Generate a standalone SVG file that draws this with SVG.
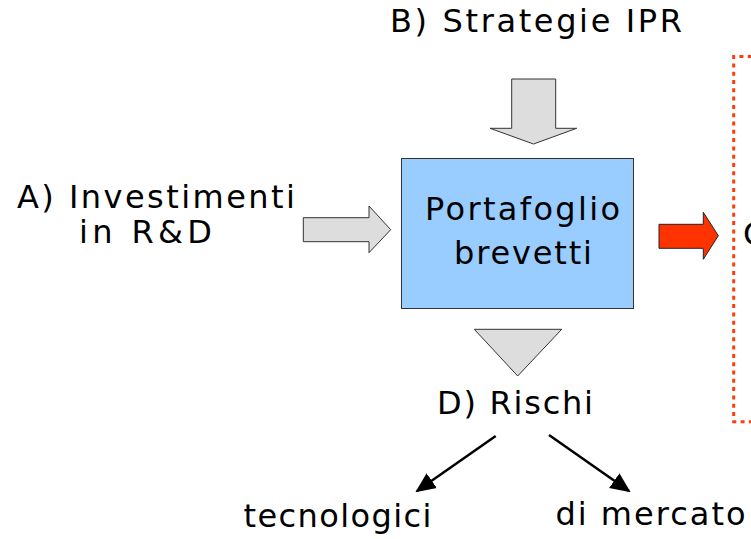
<svg xmlns="http://www.w3.org/2000/svg" width="751" height="539" viewBox="0 0 751 539">
  <style>
    text { font-family: "DejaVu Sans", Verdana, sans-serif; font-size: 32px; fill: #000; }
    .block { fill: #DDDDDD; stroke: #333333; stroke-width: 1; }
    .hot { fill: #FF3300; stroke: #222222; stroke-width: 1; }
    .box { fill: #99CCFF; stroke: #333333; stroke-width: 1; }
    .frame { fill: none; stroke: #FF3C0A; stroke-width: 3; stroke-dasharray: 4 4.3; }
    .line { stroke: #000; stroke-width: 2.5; fill: none; }
  </style>
  <defs>
    <marker id="head" viewBox="0 0 10 10" refX="9" refY="5" markerWidth="8" markerHeight="8" markerUnits="strokeWidth" orient="auto">
      <path d="M0,0.5 L10,5 L0,9.5 Z" fill="#000"/>
    </marker>
  </defs>
  <rect width="751" height="539" fill="#FFFFFF"/>

  <g id="label-b">
    <text x="390" y="32" textLength="292" lengthAdjust="spacing">B) Strategie IPR</text>
  </g>

  <g id="label-a">
    <text x="17" y="208" textLength="278" lengthAdjust="spacing">A) Investimenti</text>
    <text x="79" y="242.5" textLength="133" lengthAdjust="spacing">in R&amp;D</text>
  </g>

  <g id="portafoglio">
    <rect class="box" x="401.5" y="158.5" width="232" height="150"/>
    <text x="425" y="219.5" textLength="195" lengthAdjust="spacing">Portafoglio</text>
    <text x="454" y="263.5" textLength="138" lengthAdjust="spacing">brevetti</text>
  </g>

  <g id="label-d">
    <text x="437" y="413.5" textLength="156" lengthAdjust="spacing">D) Rischi</text>
  </g>

  <g id="tecnologici">
    <text x="243.5" y="527" textLength="188" lengthAdjust="spacing">tecnologici</text>
  </g>

  <g id="mercato">
    <text x="555.5" y="525" textLength="190" lengthAdjust="spacing">di mercato</text>
  </g>

  <g id="outcome">
    <path class="frame" d="M760,56.5 L733.7,56.5 L733.7,421.7 L760,421.7"/>
    <text x="743" y="245">C</text>
  </g>

  <g id="connectors">
    <!-- block arrow from above -->
    <path class="block" d="M511.7,79 L555.7,79 L555.7,128.3 L576.7,128.3 L533.5,144 L490,128.3 L511.7,128.3 Z"/>
    <!-- block arrow from the left -->
    <path class="block" d="M303.3,217.7 L369,217.7 L369,206 L390.7,229.7 L369,252.7 L369,241.7 L303.3,241.7 Z"/>
    <!-- downward triangle -->
    <path class="block" d="M474.3,329.3 L561.7,329.3 L517.7,376 Z"/>
    <!-- red arrow to the right -->
    <path class="hot" d="M659,224.3 L703.3,224.3 L703.3,212.3 L718.3,235.7 L703.3,259.3 L703.3,248.3 L659,248.3 Z"/>
    <!-- risk branches -->
    <line class="line" x1="495.7" y1="436" x2="417" y2="491" marker-end="url(#head)"/>
    <line class="line" x1="549" y1="435" x2="629" y2="491" marker-end="url(#head)"/>
  </g>
</svg>
